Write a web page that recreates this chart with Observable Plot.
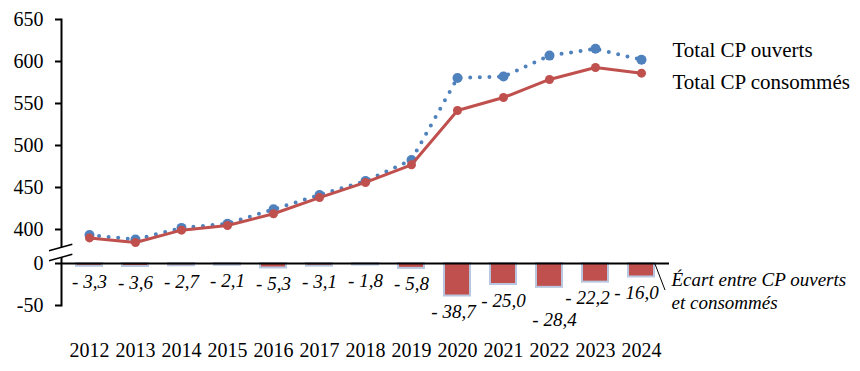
<!DOCTYPE html>
<html>
<head>
<meta charset="utf-8">
<script src="https://cdn.jsdelivr.net/npm/d3@7"></script>
<script src="https://cdn.jsdelivr.net/npm/@observablehq/plot@0.6"></script>
<style>
  html, body { margin: 0; padding: 0; background: #fff; }
  #chart svg, #chart svg text, #chart svg tspan { font-family: "Liberation Serif", "Times New Roman", serif !important; }
</style>
</head>
<body>
<div id="chart"></div>
<script>
const years = ["2012","2013","2014","2015","2016","2017","2018","2019","2020","2021","2022","2023","2024"];
const ouverts = [393.3, 388.1, 401.9, 406.9, 424.0, 441.1, 457.8, 482.8, 580.4, 582.1, 607.0, 615.1, 602.1];
const consommes = [390.0, 384.5, 399.2, 404.8, 418.7, 438.0, 456.0, 477.0, 541.7, 557.1, 578.6, 592.9, 586.1];
const ecart = [-3.3, -3.6, -2.7, -2.1, -5.3, -3.1, -1.8, -5.8, -38.7, -25.0, -28.4, -22.2, -16.0];
const yTickValues = [-50, 0, 400, 450, 500, 550, 600, 650];
const seriesNames = ["Total CP ouverts", "Total CP consommés"];
const gapLabel = "Écart entre CP ouverts\net consommés";

// broken axis: values above the break are shifted down
const SHIFT = 359.5;
const brk = v => v >= 200 ? v - SHIFT : v;
const unbrk = v => v > 20 ? Math.round(v + SHIFT) : v;

const data = years.map((y, i) => ({year: y, ouv: ouverts[i], con: consommes[i], ec: ecart[i]}));
const last = [data[data.length - 1]];

// label nudges (style only)
const nudge = {"2020": [-4, 0], "2022": [5, 17], "2023": [-8, 0], "2024": [-5, 0]};

const BLUE = "#4F81BD", RED = "#C0504D";

const plot = Plot.plot({
  width: 860, height: 371,
  marginLeft: 61, marginRight: 191, marginTop: 19, marginBottom: 66,
  x: {type: "band", domain: years, paddingInner: 0.44, paddingOuter: 0.212, align: 0.5},
  y: {domain: [-50, brk(650)]},
  style: {fontFamily: "Liberation Serif", fontSize: "20px", color: "#000", background: "#fff"},
  marks: [
    Plot.barY(data, {x: "year", y: "ec", fill: RED, stroke: "#B9C6DF", strokeWidth: 2}),
    Plot.ruleY([0], {stroke: "#000", strokeWidth: 2}),
    Plot.frame({anchor: "left", stroke: "#000", strokeWidth: 2}),
    Plot.axisY({ticks: yTickValues.map(brk), tickFormat: unbrk, tickSize: 6, tickPadding: 12, strokeWidth: 2, fontSize: 20, label: null}),
    Plot.axisX({tickSize: 0, tickPadding: 37, fontSize: 20, label: null}),
    Plot.line(data, {x: "year", y: d => brk(d.ouv), stroke: BLUE, strokeWidth: 4, strokeDasharray: "0,9.6", strokeLinecap: "round"}),
    Plot.dot(data, {x: "year", y: d => brk(d.ouv), r: 5, fill: BLUE}),
    Plot.line(data, {x: "year", y: d => brk(d.con), stroke: RED, strokeWidth: 3}),
    Plot.dot(data, {x: "year", y: d => brk(d.con), r: 4.5, fill: RED}),
    ...data.map(d => Plot.text([d], {
      x: "year", y: "ec",
      text: v => "- " + Math.abs(v.ec).toFixed(1).replace(".", ","),
      dx: (nudge[d.year] || [0, 0])[0], dy: 16 + (nudge[d.year] || [0, 0])[1],
      fontStyle: "italic", fontSize: 19, fill: "#000"
    })),
    Plot.text(last, {x: "year", y: d => brk(d.ouv), text: () => seriesNames[0], dx: 31, dy: -9, textAnchor: "start", fontSize: 21, fill: "#000"}),
    Plot.text(last, {x: "year", y: d => brk(d.con), text: () => seriesNames[1], dx: 31, dy: 9, textAnchor: "start", fontSize: 21, fill: "#000"}),
    Plot.text(last, {x: "year", y: () => 0, text: () => gapLabel, dx: 30, dy: 26.5, textAnchor: "start", lineHeight: 1.2, fontStyle: "italic", fontSize: 19, fill: "#000"})
  ]
});

// break marks and leader line, positioned from scales
const sx = plot.scale("x"), sy = plot.scale("y");
const svg = d3.select(plot);
const ax = 61, y0 = sy.apply(0);
const g = svg.append("g");
g.append("path")
  .attr("d", `M${ax-12},${y0-12.3}L${ax+11.3},${y0-18.7}L${ax+11.3},${y0-8.7}L${ax-12},${y0-2.3}Z`)
  .attr("fill", "#fff");
[-12.3, -2.3].forEach(o => {
  g.append("line")
    .attr("x1", ax - 12).attr("y1", y0 + o)
    .attr("x2", ax + 11.3).attr("y2", y0 + o - 6.4)
    .attr("stroke", "#000").attr("stroke-width", 1.5);
});
const xr = sx.apply("2024") + sx.bandwidth;
g.append("line")
  .attr("x1", xr + 1).attr("y1", y0 + 1)
  .attr("x2", xr + 11).attr("y2", y0 + 27)
  .attr("stroke", "#000").attr("stroke-width", 1);

document.getElementById("chart").appendChild(plot);
</script>
</body>
</html>
